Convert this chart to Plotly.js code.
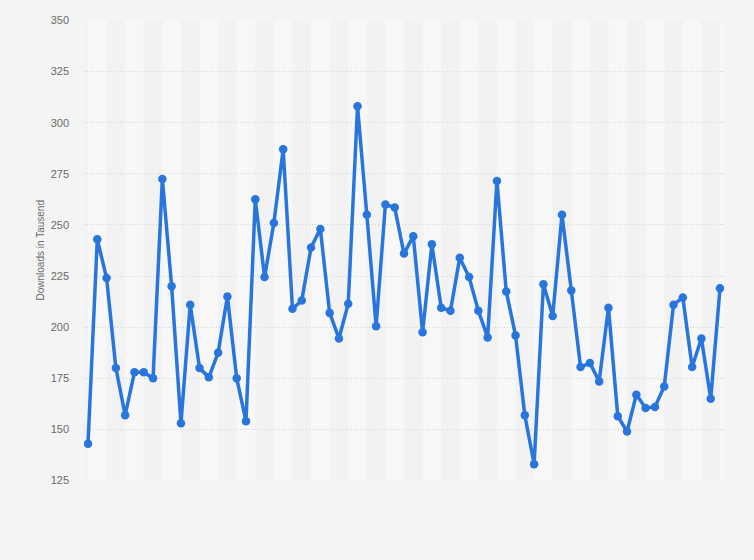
<!DOCTYPE html>
<html>
<head>
<meta charset="utf-8">
<script src="https://cdn.plot.ly/plotly-3.0.1.min.js"></script>
<style>
  html, body { margin: 0; padding: 0; background: #f4f4f4; }
  #chart { width: 754px; height: 560px; }
</style>
</head>
<body>
<div id="chart"></div>
<script>
// Data (downloads in thousands), 69 periods
const periods = Array.from({length: 69}, (_, i) => i);
const downloads = [
  143, 243, 224, 180, 157, 178, 178, 175, 272.5, 220,
  153, 211, 180, 175.5, 187.5, 215, 175, 154, 262.5, 224.5,
  251, 287, 209, 213, 239, 248, 207, 194.5, 211.5, 308,
  255, 200.5, 260, 258.5, 236, 244.5, 197.5, 240.5, 209.5, 208,
  234, 224.5, 208, 195, 271.5, 217.5, 196, 157, 133, 221,
  205.5, 255, 218, 180.5, 182.5, 173.5, 209.5, 156.5, 149, 167,
  160.5, 161, 171, 211, 214.5, 180.5, 194.5, 165, 219
];
const yTicks = [125, 150, 175, 200, 225, 250, 275, 300, 325, 350];
const yTitle = 'Downloads in Tausend';

const xMin = -0.43, xMax = 68.43;

// alternating light bands (two periods wide)
const shapes = [];
for (let k = 0; 4 * k < periods.length; k++) {
  shapes.push({
    type: 'rect', xref: 'x', yref: 'paper', layer: 'below',
    x0: 4 * k, x1: Math.min(4 * k + 2, xMax), y0: 0, y1: 1,
    fillcolor: '#f7f7f7', line: {width: 0}
  });
}
// faint container boundary line near bottom
shapes.push({
  type: 'line', xref: 'paper', yref: 'paper', layer: 'below',
  x0: -84/640, x1: 1 + 30/640, y0: -31/461, y1: -31/461,
  line: {color: '#ececec', width: 1}
});

const trace = {
  x: periods,
  y: downloads,
  type: 'scatter',
  mode: 'lines+markers',
  line: {color: '#2876dd', width: 3.5},
  marker: {color: '#2876dd', size: 8.5},
  hoverinfo: 'skip'
};

const layout = {
  width: 754, height: 560,
  margin: {l: 84, r: 30, t: 20, b: 79, pad: 0},
  paper_bgcolor: '#f4f4f4',
  plot_bgcolor: '#f2f2f2',
  showlegend: false,
  font: {family: 'Liberation Sans, Arial, sans-serif', color: '#666666', size: 11},
  xaxis: {
    range: [xMin, xMax],
    showgrid: false, zeroline: false, showline: false,
    showticklabels: false, ticks: '', fixedrange: true
  },
  yaxis: {
    range: [124.8, 350.2],
    tickvals: yTicks,
    ticktext: yTicks.map(String),
    showgrid: true,
    gridcolor: '#d2d2d2',
    griddash: '1px,2px',
    gridwidth: 1,
    zeroline: false, showline: false, ticks: '',
    ticklabelstandoff: 14,
    tickfont: {size: 11, color: '#6a6a6a'},
    automargin: false,
    fixedrange: true
  },
  annotations: [{
    text: yTitle, xref: 'paper', yref: 'paper',
    x: (40 - 84) / 640, y: 0.5, xanchor: 'center', yanchor: 'middle',
    textangle: -90, showarrow: false,
    font: {size: 10, color: '#6a6a6a'}
  }],
  shapes: shapes
};

Plotly.newPlot('chart', [trace], layout, {displayModeBar: false, staticPlot: true});
</script>
</body>
</html>
